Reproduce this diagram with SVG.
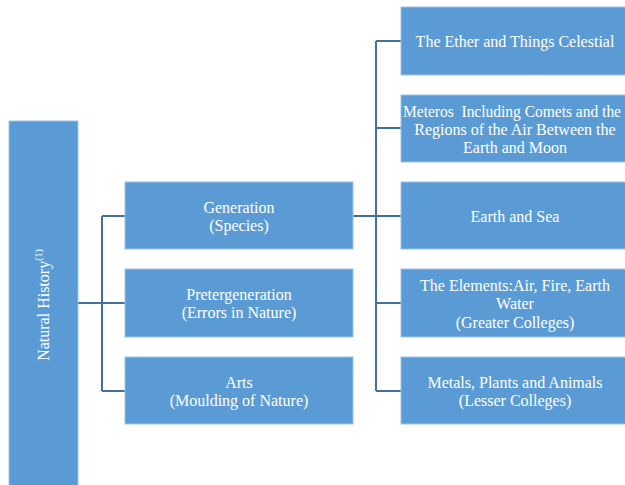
<svg xmlns="http://www.w3.org/2000/svg" width="625" height="485" viewBox="0 0 625 485">
<style>
.box{fill:#5B9BD5;stroke:#9DC3E6;stroke-width:1}
.t{font-family:"Liberation Serif","DejaVu Serif",serif;font-size:16px;fill:#ffffff;text-anchor:middle}
.c{fill:none;stroke:#41719C;stroke-width:2}
</style>
<rect width="625" height="485" fill="#ffffff"/>
<g id="connectors">
<path class="c" d="M78,303 H102 M102,216 V391 M102,216 H125 M102,303 H125 M102,391 H125"/>
<path class="c" d="M353,216 H376 M376,41 V391 M376,41 H401 M376,128 H401 M376,216 H401 M376,303 H401 M376,391 H401"/>
</g>
<g id="root">
<rect class="box" x="9" y="121" width="69" height="370"/>
<text class="t" transform="translate(49,305) rotate(-90)">Natural History<tspan font-size="10" dy="-7">(1)</tspan></text>
</g>
<g id="generation">
<rect class="box" x="125" y="182" width="228" height="67"/>
<text class="t" x="239" y="213">Generation</text>
<text class="t" x="239" y="231">(Species)</text>
</g>
<g id="pretergeneration">
<rect class="box" x="125" y="269" width="228" height="68"/>
<text class="t" x="239" y="300">Pretergeneration</text>
<text class="t" x="239" y="318">(Errors in Nature)</text>
</g>
<g id="arts">
<rect class="box" x="125" y="357" width="228" height="67"/>
<text class="t" x="239" y="388">Arts</text>
<text class="t" x="239" y="406">(Moulding of Nature)</text>
</g>
<g id="ether">
<rect class="box" x="401" y="7" width="228" height="68"/>
<text class="t" x="515" y="47">The Ether and Things Celestial</text>
</g>
<g id="meteros">
<rect class="box" x="401" y="95" width="228" height="67"/>
<text class="t" x="512" y="117" xml:space="preserve" textLength="218" lengthAdjust="spacingAndGlyphs">Meteros  Including Comets and the</text>
<text class="t" x="515" y="135">Regions of the Air Between the</text>
<text class="t" x="515" y="153">Earth and Moon</text>
</g>
<g id="earth-sea">
<rect class="box" x="401" y="182" width="228" height="67"/>
<text class="t" x="515" y="222">Earth and Sea</text>
</g>
<g id="elements">
<rect class="box" x="401" y="269" width="228" height="68"/>
<text class="t" x="515" y="291">The Elements:Air, Fire, Earth</text>
<text class="t" x="515" y="309">Water</text>
<text class="t" x="515" y="328">(Greater Colleges)</text>
</g>
<g id="metals">
<rect class="box" x="401" y="357" width="228" height="67"/>
<text class="t" x="515" y="388">Metals, Plants and Animals</text>
<text class="t" x="515" y="406">(Lesser Colleges)</text>
</g>
</svg>
